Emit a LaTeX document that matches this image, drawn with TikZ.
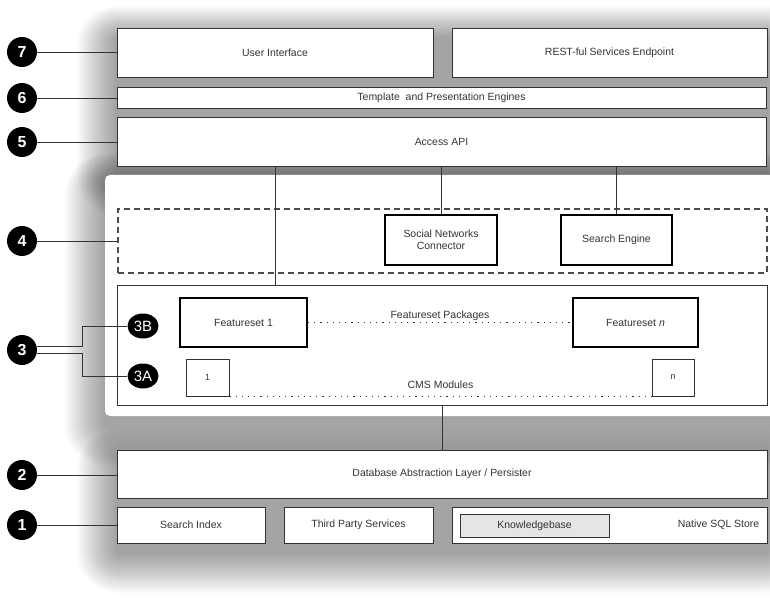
\documentclass[tikz,border=0pt]{standalone}
\usepackage{fontspec}
\setmainfont{Liberation Sans}
\usetikzlibrary{shapes.geometric}

\tikzset{
	layer/.style={draw=black!80, line width=0.9pt, fill=white, inner sep=2bp, text=black!80, align=center},
	part/.style={layer, draw=black, line width=1.8pt},
	badge/.style={circle, fill=black, text=white, inner sep=0pt, minimum size=30bp,
		font=\fontsize{16}{16}\selectfont\bfseries},
	subbadge/.style={ellipse, fill=black, text=white, inner sep=0pt, minimum width=31bp,
		minimum height=25bp, font=\fontsize{15}{15}\selectfont},
	link/.style={draw=black!80, line width=0.9pt},
	dots/.style={link, line width=1.2pt, dash pattern=on 1.2bp off 5bp}
}

% blurred shadow under a block of layers
\newcommand{\softshadow}[4]{%
	\foreach \b [evaluate=\b as \r using 2*\b+2] in {1,...,20}
		\fill[black, opacity=0.02, rounded corners=\r bp]
			({#1-2*\b},{#2+10-1.6*\b}) rectangle ({#3+2*\b},{#4+10+2*\b});}

\begin{document}
\begin{tikzpicture}[x=1bp, y=-1bp, every node/.style={font=\fontsize{10.5}{12.5}\selectfont}]
	\useasboundingbox (0,0) rectangle (770,605);
	\fill[white] (0,0) rectangle (770,605);
	\softshadow{117}{28}{767}{166}
	\softshadow{105}{175}{770}{416}
	\softshadow{117}{450}{767}{543}
	\fill[white, rounded corners=5bp] (105,175) rectangle (775,416);

	% upper layers
	\node[layer, minimum width=316bp, minimum height=49bp] (ui) at (275,52.5) {User Interface};
	\node[layer, minimum width=315bp, minimum height=49bp] (rest) at (609.5,52.5) {REST-ful Services Endpoint};
	\node[layer, minimum width=649bp, minimum height=21bp] (tpl) at (441.5,97.5) {Template\ \ and Presentation Engines};
	\node[layer, minimum width=649bp, minimum height=49bp] (api) at (441.5,141.5) {Access API};

	% extensions
	\node[draw=black!70, line width=1.3pt, dash pattern=on 6bp off 4bp, minimum width=649bp,
		minimum height=64bp] (ext) at (442.5,241) {};
	\node[part, minimum width=112bp, minimum height=50bp] (snc) at (441,240) {Social Networks\\Connector};
	\node[part, minimum width=111bp, minimum height=50bp] (seng) at (616.5,240) {Search Engine};

	% core
	\node[layer, minimum width=650bp, minimum height=120bp] (core) at (442,345) {};
	\node[part, minimum width=127bp, minimum height=49bp] (fs1) at (243.5,322.5) {Featureset 1};
	\node[part, minimum width=125bp, minimum height=49bp] (fsn) at (635.5,322.5) {Featureset \textit{n}};
	\node[layer, minimum width=43bp, minimum height=37bp, font=\fontsize{9}{10}\selectfont] (m1) at (207.5,377.5) {1};
	\node[layer, minimum width=42bp, minimum height=37bp, font=\fontsize{9}{10}\selectfont] (mn) at (673,377.5) {n};
	\draw[dots] (fs1.east) -- node[above=0bp, inner sep=1bp, text=black!80] (fpk) {Featureset Packages} (fsn.west);
	\draw[dots] (m1.south east) -- node[above=6bp, inner sep=1bp, text=black!80] (cms) {CMS Modules} (mn.south west);

	% storage
	\node[layer, minimum width=650bp, minimum height=48bp] (dal) at (442,474) {Database Abstraction Layer / Persister};
	\node[layer, minimum width=148bp, minimum height=36bp] (sidx) at (191,525) {Search Index};
	\node[layer, minimum width=149bp, minimum height=36bp] (tps) at (358.5,525) {Third Party Services};
	\node[layer, minimum width=315bp, minimum height=36bp] (sql) at (609.5,525) {};
	\node[layer, fill=black!10, minimum width=149bp, minimum height=23bp] (kb) at (534.5,525.5) {Knowledgebase};
	\node[text=black!80, anchor=east, inner sep=2bp] (sqlname) at ([xshift=-6bp]sql.east) {Native SQL Store};

	% connectors
	\draw[link] (api.south -| ui) -- (core.north -| ui);
	\draw[link] (api.south -| snc) -- (snc.north);
	\draw[link] (api.south -| seng) -- (seng.north);
	\draw[link] (core.south) -- (core.south |- dal.north);

	% numbered markers
	\node[badge] (b7) at (22,52) {7};
	\node[badge] (b6) at (22,98) {6};
	\node[badge] (b5) at (22,142) {5};
	\node[badge] (b4) at (22,241) {4};
	\node[badge] (b3) at (22,350) {3};
	\node[badge] (b2) at (22,475) {2};
	\node[badge] (b1) at (22,525) {1};
	\node[subbadge] (b3b) at (143,326) {3B};
	\node[subbadge] (b3a) at (143,376) {3A};
	\draw[link] (b7) -- (b7 -| ui.west);
	\draw[link] (b6) -- (b6 -| tpl.west);
	\draw[link] (b5) -- (b5 -| api.west);
	\draw[link] (b4) -- (b4 -| ext.west);
	\draw[link] (b2) -- (b2 -| dal.west);
	\draw[link] (b1) -- (b1 -| sidx.west);
	\draw[link] ([yshift=4bp]b3.east) -- ++(45,0) |- (b3b.west);
	\draw[link] ([yshift=-3bp]b3.east) -- ++(45,0) |- (b3a.west);
\end{tikzpicture}
\end{document}
